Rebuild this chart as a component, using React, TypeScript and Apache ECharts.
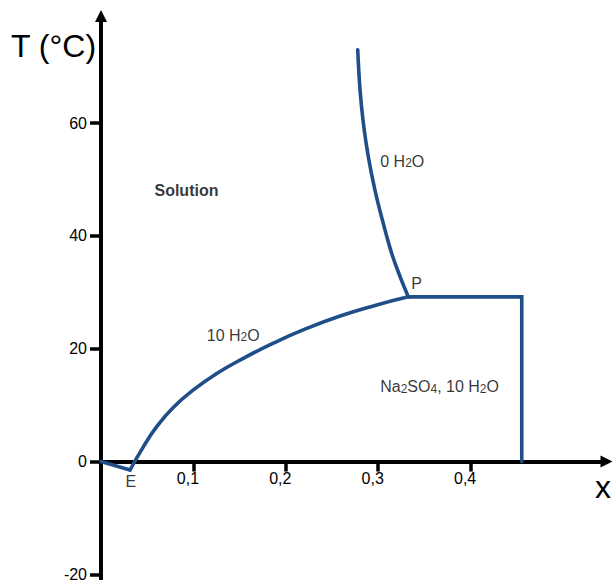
import React, { useEffect, useRef } from 'react';
import * as echarts from 'echarts';

// Axis ticks and extents
const xTickValues = [0.1, 0.2, 0.3, 0.4];
const yTickValues = [-20, 0, 20, 40, 60];
const xExtent = [0, 0.547];
const yExtent = [-21, 79];

// Phase-diagram boundaries (x = mass fraction, T in °C)
const eutecticSegment = [
  [0, 0],
  [0.0314, -1.5],
];
const decahydrateCurve = [
  [0.0314, -1.5],
  [0.0458, 2.6],
  [0.0603, 6.2],
  [0.0782, 9.6],
  [0.0999, 12.7],
  [0.1252, 15.6],
  [0.154, 18.3],
  [0.1865, 21.0],
  [0.2226, 23.6],
  [0.2587, 25.8],
  [0.2947, 27.6],
  [0.3326, 29.2],
];
const anhydrousCurve = [
  [0.3326, 29.2],
  [0.3236, 32.8],
  [0.3146, 36.9],
  [0.3055, 42.2],
  [0.2965, 48.1],
  [0.2893, 54.0],
  [0.2839, 60.0],
  [0.2803, 65.9],
  [0.2778, 73.0],
];
const solidBoundary = [
  [0.3326, 29.2],
  [0.4553, 29.2],
  [0.4553, 0],
];

// Region / point annotations (anchored at data coordinates)
const annotationTexts = ['Solution', '0 H{s|2}O', '10 H{s|2}O', 'Na{s|2}SO{s|4}, 10 H{s|2}O', 'P', 'E'];
const annotationX = [0.0584, 0.3027, 0.115, 0.3027, 0.3363, 0.0271];
const annotationY = [48.0, 53.2, 22.3, 13.2, 31.4, -3.67];
const annotationBold = [true, false, false, false, false, false];

const FONT = '"Liberation Sans", Arial, Helvetica, sans-serif';
const LINE_COLOR = '#1f4e88';
const GRID_TOP = 16;
const GRID_BOTTOM = 0;
const CHART_H = 580;

export default function App() {
  const ref = useRef<HTMLDivElement>(null);

  useEffect(() => {
    if (!ref.current) return;
    const chart = echarts.init(ref.current, null, { renderer: 'svg' });

    const curveStyle = { color: LINE_COLOR, width: 3.6, cap: 'round' as const, join: 'miter' as const };

    // place the x axis on T = 0
    const gridH = CHART_H - GRID_TOP - GRID_BOTTOM;
    const zeroOffset = -((0 - yExtent[0]) / (yExtent[1] - yExtent[0])) * gridH;

    const option: any = {
      animation: false,
      backgroundColor: '#ffffff',
      grid: {
        left: 101,
        right: 6.5,
        top: GRID_TOP,
        bottom: GRID_BOTTOM,
        containLabel: false,
        outerBoundsMode: 'none',
      },
      xAxis: {
        type: 'value',
        position: 'bottom',
        offset: zeroOffset,
        min: xExtent[0],
        max: xExtent[1],
        splitLine: { show: false },
        axisLine: {
          show: true,
          onZero: false,
          symbol: ['none', 'triangle'],
          symbolSize: [12, 12],
          lineStyle: { color: '#000', width: 4 },
        },
        axisTick: {
          show: true,
          customValues: xTickValues,
          length: 10,
          lineStyle: { color: '#000', width: 3.5 },
        },
        axisLabel: {
          show: true,
          customValues: xTickValues,
          margin: 9,
          fontSize: 16,
          fontFamily: FONT,
          color: '#000',
          padding: [0, 11, 0, 0],
          formatter: (v: number) => v.toFixed(1).replace('.', ','),
        },
      },
      yAxis: {
        type: 'value',
        min: yExtent[0],
        max: yExtent[1],
        splitLine: { show: false },
        axisLine: {
          show: true,
          onZero: false,
          symbol: ['none', 'triangle'],
          symbolSize: [12, 12],
          lineStyle: { color: '#000', width: 4 },
        },
        axisTick: {
          show: true,
          customValues: yTickValues,
          length: 11,
          lineStyle: { color: '#000', width: 3.5 },
        },
        axisLabel: {
          show: true,
          customValues: yTickValues,
          margin: 14,
          fontSize: 16,
          fontFamily: FONT,
          color: '#000',
          formatter: (v: number) => String(v),
        },
      },
      graphic: [
        {
          type: 'text',
          x: 11,
          y: 45.5,
          silent: true,
          style: {
            text: 'T (°C)',
            fontSize: 32,
            fontFamily: FONT,
            fill: '#000',
            align: 'left',
            verticalAlign: 'middle',
            textAlign: 'left',
            textVerticalAlign: 'middle',
          },
        },
        {
          type: 'text',
          x: 595,
          y: 487,
          silent: true,
          style: {
            text: 'x',
            fontSize: 32,
            fontFamily: FONT,
            fill: '#000',
            align: 'left',
            verticalAlign: 'middle',
            textAlign: 'left',
            textVerticalAlign: 'middle',
          },
        },
      ],
      series: [
        {
          type: 'line',
          data: eutecticSegment,
          showSymbol: false,
          symbol: 'none',
          silent: true,
          lineStyle: curveStyle,
        },
        {
          type: 'line',
          data: decahydrateCurve,
          showSymbol: false,
          symbol: 'none',
          smooth: 0.5,
          silent: true,
          lineStyle: curveStyle,
        },
        {
          type: 'line',
          data: anhydrousCurve,
          showSymbol: false,
          symbol: 'none',
          smooth: 0.4,
          silent: true,
          lineStyle: curveStyle,
        },
        {
          type: 'line',
          data: solidBoundary,
          showSymbol: false,
          symbol: 'none',
          silent: true,
          lineStyle: curveStyle,
        },
        {
          type: 'scatter',
          symbolSize: 1,
          silent: true,
          itemStyle: { color: 'rgba(0,0,0,0)' },
          data: annotationTexts.map((t, i) => ({
            value: [annotationX[i], annotationY[i]],
            label: {
              formatter: t,
              fontWeight: annotationBold[i] ? 'bold' : 'normal',
            },
          })),
          label: {
            show: true,
            position: [0, 0],
            align: 'left',
            verticalAlign: 'middle',
            fontSize: 16,
            lineHeight: 16,
            fontFamily: FONT,
            color: '#000',
            rich: {
              s: { fontSize: 12, lineHeight: 12, verticalAlign: 'bottom', fontFamily: FONT, color: '#000' },
            },
          },
        },
      ],
    };

    chart.setOption(option);
    return () => chart.dispose();
  }, []);

  return (
    <div
      ref={ref}
      style={{ position: 'fixed', left: 0, top: 0, width: 613, height: 580, background: '#fff' }}
    />
  );
}
